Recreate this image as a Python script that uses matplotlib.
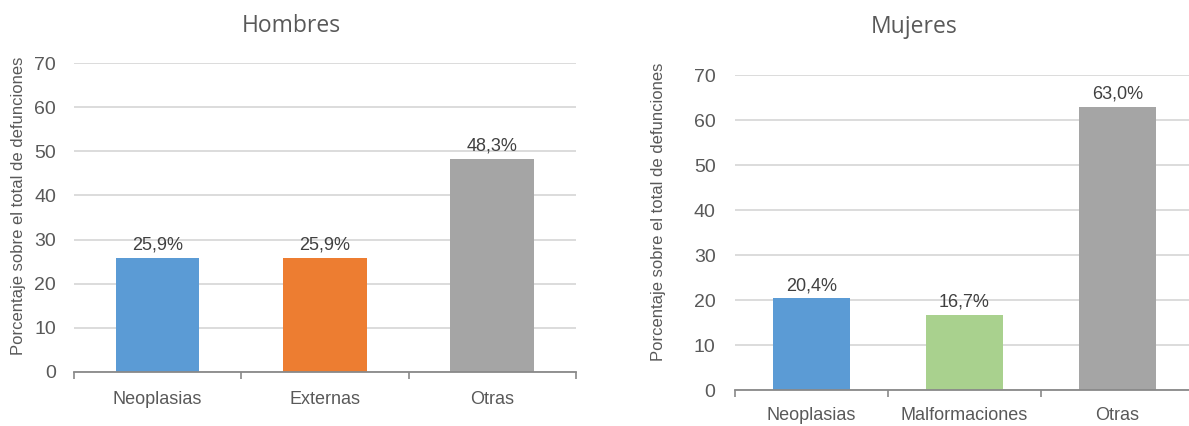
import numpy as np
import matplotlib
matplotlib.use("Agg")
import matplotlib.pyplot as plt

plt.rcParams['font.family'] = ['Liberation Sans', 'DejaVu Sans']

# datos de defunciones por sexo (porcentaje)
cat_hombres = ['Neoplasias', 'Externas', 'Otras']
val_hombres = [25.9, 25.9, 48.3]
col_hombres = ['#5B9BD5', '#ED7D31', '#A5A5A5']

cat_mujeres = ['Neoplasias', 'Malformaciones', 'Otras']
val_mujeres = [20.4, 16.7, 63.0]
col_mujeres = ['#5B9BD5', '#A9D18E', '#A5A5A5']

y_ticks = [0, 10, 20, 30, 40, 50, 60, 70]
ylabel = 'Porcentaje sobre el total de defunciones'

gris_txt = '#595959'


def dibujar(ax, cats, vals, cols, ypad, xpad):
    x = np.arange(len(cats))
    ax.bar(x, vals, width=0.5, color=cols, zorder=3)
    for xi, v in zip(x, vals):
        ax.annotate(f'{v:.1f}%'.replace('.', ','), (xi, v), xytext=(0, 3),
                    textcoords='offset points', ha='center', va='bottom',
                    fontsize=13, color='#404040')
    ax.set_xlim(-0.5, len(cats) - 0.5)
    ax.set_ylim(0, 70)
    ax.set_yticks(y_ticks)
    ax.set_xticks(x)
    ax.set_xticklabels(cats)
    ax.set_xticks(np.arange(len(cats) + 1) - 0.5, minor=True)
    ax.tick_params(axis='x', which='major', length=0, pad=xpad,
                   labelsize=13, labelcolor=gris_txt)
    ax.tick_params(axis='x', which='minor', length=5, width=1.2,
                   color='#898989', direction='out')
    ax.tick_params(axis='y', length=0, pad=ypad, labelsize=14,
                   labelcolor=gris_txt)
    ax.grid(axis='y', color='#D9D9D9', linewidth=1.3, zorder=0)
    for s in ['top', 'right', 'left']:
        ax.spines[s].set_visible(False)
    ax.spines['bottom'].set_color('#898989')
    ax.spines['bottom'].set_linewidth(1.3)
    ax.spines['bottom'].set_zorder(4)


fig = plt.figure(figsize=(11.89, 4.26), dpi=100)

ax1 = fig.add_axes([0.0622, 0.1268, 0.4222, 0.7253])
dibujar(ax1, cat_hombres, val_hombres, col_hombres, ypad=13, xpad=14)

ax2 = fig.add_axes([0.6182, 0.0845, 0.386, 0.7394])
dibujar(ax2, cat_mujeres, val_mujeres, col_mujeres, ypad=14, xpad=12)

fig.text(291 / 1189, 1 - 26 / 426, 'Hombres', ha='center', va='center',
         fontsize=16.5, color=gris_txt, family='Open Sans')
fig.text(914 / 1189, 1 - 27 / 426, 'Mujeres', ha='center', va='center',
         fontsize=16.5, color=gris_txt, family='Open Sans')

fig.text(19 / 1189, 1 - 206 / 426, ylabel, rotation=90, ha='center',
         va='center', fontsize=12, color=gris_txt)
fig.text(658 / 1189, 1 - 212 / 426, ylabel, rotation=90, ha='center',
         va='center', fontsize=12, color=gris_txt)

fig.savefig('out.png', dpi=100)
